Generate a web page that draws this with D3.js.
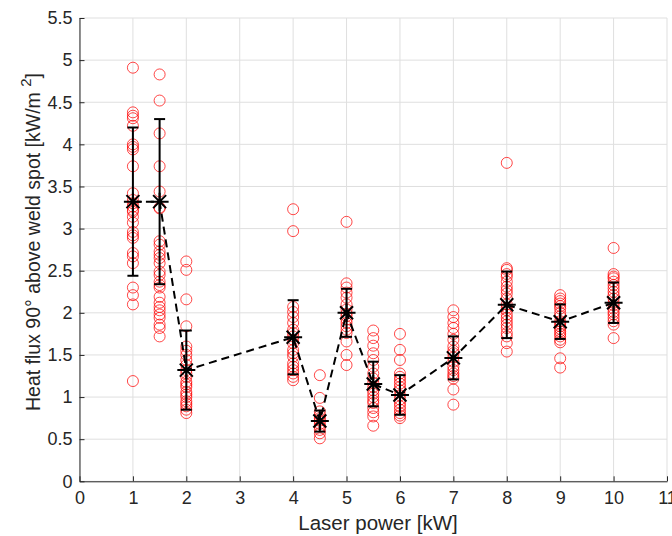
<!DOCTYPE html>
<html><head><meta charset="utf-8">
<script src="https://cdn.jsdelivr.net/npm/d3@7"></script>
<style>body{margin:0;background:#fff}svg{display:block}</style>
</head><body>
<svg id="c" width="672" height="536"></svg>
<script>
const powers = [1, 1.5, 2, 4, 4.5, 5, 5.5, 6, 7, 8, 9, 10];
const samples = [
  [4.91,4.38,4.34,4.31,4.22,4.0,3.97,3.94,3.74,3.42,3.34,3.30,3.26,3.2,3.14,3.22,3.07,2.96,2.92,2.89,2.71,2.67,2.59,2.3,2.21,2.1,1.19],
  [4.83,4.52,4.13,3.74,3.44,3.25,3.24,2.85,2.81,2.73,2.69,2.65,2.59,2.49,2.45,2.37,2.33,2.3,2.19,2.12,2.07,2.03,1.98,1.94,1.86,1.82,1.72],
  [2.61,2.51,2.16,1.84,1.6,1.55,1.5,1.44,1.38,1.32,1.24,1.18,1.12,1.06,1.0,0.95,0.89,0.85,0.81,1.28,1.15,0.92,1.03],
  [3.23,2.97,2.07,2.01,1.95,1.88,1.8,1.72,1.64,1.56,1.48,1.4,1.32,1.24,1.2,1.76,1.68,1.52,1.36,1.28],
  [1.26,0.99,0.83,0.78,0.72,0.65,0.57,0.51,0.68,0.61,0.75],
  [3.08,2.35,2.3,2.24,2.18,2.1,1.99,1.92,1.84,1.76,1.66,1.5,1.38,2.04,1.96,1.88,1.8],
  [1.79,1.7,1.61,1.52,1.44,1.36,1.28,1.17,1.08,1.0,0.93,0.87,0.77,0.66,1.22,1.12,1.04,0.96,0.82],
  [1.75,1.56,1.44,1.28,1.2,1.12,1.02,0.97,0.89,0.81,0.75,1.24,1.16,1.08,0.93,0.85,0.78],
  [2.03,1.95,1.88,1.82,1.68,1.6,1.47,1.36,1.28,1.22,1.09,0.91,1.75,1.55,1.42,1.32,1.25,1.52],
  [3.78,2.53,2.51,2.43,2.37,2.31,2.23,2.17,2.1,2.03,1.98,1.9,1.82,1.76,1.64,1.54,2.46,2.27,2.06,1.94,1.86,1.72],
  [2.21,2.17,2.11,2.05,2.0,1.9,1.84,1.78,1.72,1.65,1.46,1.35,2.14,2.08,1.96,1.87,1.81,1.75,1.68],
  [2.77,2.46,2.43,2.37,2.29,2.21,2.12,2.05,1.98,1.86,1.7,2.41,2.33,2.25,2.17,2.09,2.01,1.94,1.9]
];
const means = [3.32, 3.32, 1.32, 1.71, 0.715, 2.0, 1.155, 1.025, 1.465, 2.095, 1.895, 2.12];
const stds  = [0.88, 0.98, 0.47, 0.44, 0.125, 0.285, 0.265, 0.235, 0.255, 0.395, 0.205, 0.24];
const xTicks = [0,1,2,3,4,5,6,7,8,9,10,11];
const yTicks = [0,0.5,1,1.5,2,2.5,3,3.5,4,4.5,5,5.5];
const xTitle = "Laser power [kW]";

const svg = d3.select("#c");
const x = d3.scaleLinear().domain([0, 11]).range([79.5, 667]);
const y = d3.scaleLinear().domain([0, 5.5]).range([481.3, 18]);
const font = "'Liberation Sans', Arial, sans-serif";
const axisCol = "#262626";

// grid
svg.append("g").selectAll("line").data(xTicks).join("line")
  .attr("x1", d => x(d)).attr("x2", d => x(d)).attr("y1", y(0)).attr("y2", y(5.5))
  .attr("stroke", "#dfdfdf").attr("stroke-width", 1);
svg.append("g").selectAll("line").data(yTicks).join("line")
  .attr("x1", x(0)).attr("x2", x(11)).attr("y1", d => y(d)).attr("y2", d => y(d))
  .attr("stroke", "#dfdfdf").attr("stroke-width", 1);

// axes
const xAxis = svg.append("g").attr("transform", `translate(0,${y(0)})`)
  .call(d3.axisBottom(x).tickValues(xTicks).tickFormat(d3.format("")).tickSizeInner(-5).tickSizeOuter(0).tickPadding(10));
const yAxis = svg.append("g").attr("transform", `translate(${x(0)},0)`)
  .call(d3.axisLeft(y).tickValues(yTicks).tickFormat(d3.format("")).tickSizeInner(-5).tickSizeOuter(0).tickPadding(7));
[xAxis, yAxis].forEach(g => {
  g.select(".domain").attr("stroke", axisCol).attr("stroke-width", 1);
  g.selectAll(".tick line").attr("stroke", axisCol);
  g.selectAll(".tick text").attr("fill", axisCol).style("font-family", font).style("font-size", "18px");
});

// scatter circles
const pts = [];
powers.forEach((p, i) => samples[i].forEach(v => pts.push([p, v])));
svg.append("g").selectAll("circle").data(pts).join("circle")
  .attr("cx", d => x(d[0])).attr("cy", d => y(d[1])).attr("r", 5.5)
  .attr("fill", "none").attr("stroke", "#ff0000").attr("stroke-width", 0.9).attr("stroke-opacity", 0.8);

// dashed mean line
const line = d3.line().x((d, i) => x(powers[i])).y(d => y(d));
svg.append("path").datum(means).attr("d", line)
  .attr("fill", "none").attr("stroke", "#000").attr("stroke-width", 2).attr("stroke-dasharray", "8,5");

// error bars
const eb = svg.append("g").attr("stroke", "#000").attr("stroke-width", 2);
powers.forEach((p, i) => {
  const lo = y(means[i] - stds[i]), hi = y(means[i] + stds[i]), cx = x(p);
  eb.append("line").attr("x1", cx).attr("x2", cx).attr("y1", lo).attr("y2", hi);
  eb.append("line").attr("x1", cx - 5.5).attr("x2", cx + 5.5).attr("y1", lo).attr("y2", lo);
  eb.append("line").attr("x1", cx - 5.5).attr("x2", cx + 5.5).attr("y1", hi).attr("y2", hi);
  const cy = y(means[i]), s = 9, dd = 6.5;
  eb.append("path").attr("d", `M${cx-s},${cy}H${cx+s}M${cx},${cy-s}V${cy+s}M${cx-dd},${cy-dd}L${cx+dd},${cy+dd}M${cx-dd},${cy+dd}L${cx+dd},${cy-dd}`);
});

// titles
svg.append("text").attr("x", 378).attr("y", 530).attr("text-anchor", "middle")
  .attr("fill", axisCol).style("font-family", font).style("font-size", "20.5px").text(xTitle);
const yt = svg.append("text").attr("transform", "translate(40,242) rotate(-90)").attr("text-anchor", "middle")
  .attr("fill", axisCol).style("font-family", font).style("font-size", "19.5px");
yt.append("tspan").text("Heat flux 90° above weld spot [kW/m ");
yt.append("tspan").attr("dy", -9).style("font-size", "15px").text("2");
yt.append("tspan").attr("dy", 9).text("]");
</script>
</body></html>
